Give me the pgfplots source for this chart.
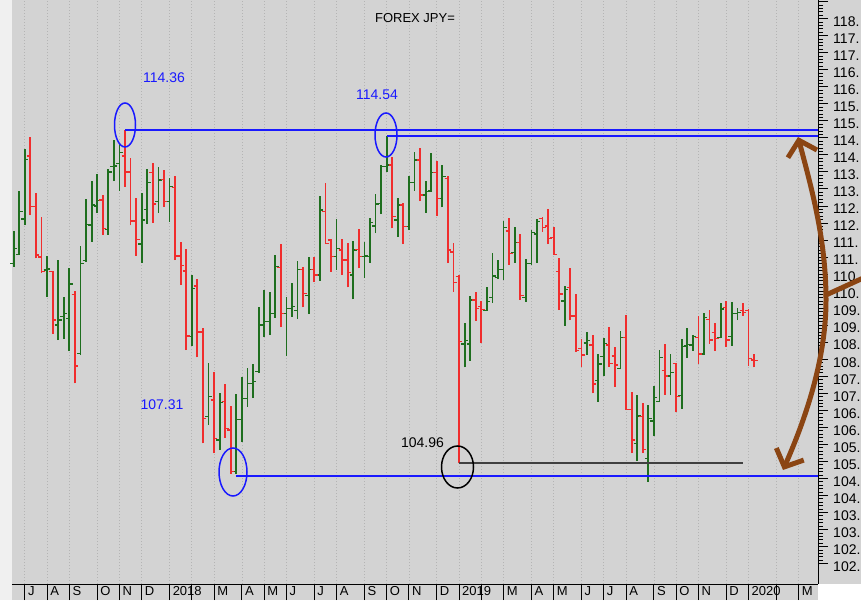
\documentclass[border=0pt]{standalone}
\usepackage{fontspec}
\setmainfont{Liberation Sans}
\usepackage{pgfplots}
\pgfplotsset{compat=1.18}
\usepackage{pgfplotstable}
\usetikzlibrary{arrows.meta}
\definecolor{bg}{RGB}{211,211,211}
\definecolor{leftbg}{RGB}{240,240,240}
\definecolor{grn}{RGB}{30,110,30}
\definecolor{rd}{RGB}{240,45,45}
\definecolor{annblue}{RGB}{25,25,255}
\definecolor{brn}{RGB}{139,69,19}
\definecolor{gridc}{RGB}{180,180,180}
\pgfdeclareplotmark{otick}{\pgfpathmoveto{\pgfqpoint{-3.4pt}{0pt}}\pgfpathlineto{\pgfqpoint{0pt}{0pt}}\pgfusepathqstroke}
\pgfdeclareplotmark{ctick}{\pgfpathmoveto{\pgfqpoint{0pt}{0pt}}\pgfpathlineto{\pgfqpoint{3.4pt}{0pt}}\pgfusepathqstroke}

\pgfplotstableread{
i O H L C
0 110.82 111.76 110.72 111.26
1 111.08 112.94 111.06 112.33
2 112.12 114.17 111.94 113.87
6 110.62 111.03 109.84 110.65
8 109.00 110.91 108.56 109.15
9 109.25 109.84 108.59 109.35
10 109.20 110.67 108.25 110.21
12 108.17 111.32 108.12 110.82
13 110.90 112.69 110.86 111.96
14 111.94 113.23 111.45 112.53
15 112.50 113.44 112.30 112.65
17 111.81 113.58 111.65 113.50
18 113.65 114.43 113.23 113.67
19 113.75 114.36 112.94 114.06
23 111.38 112.87 110.83 112.09
24 112.40 113.58 111.97 113.18
26 112.62 113.63 112.30 113.26
28 112.62 113.31 112.04 113.07
32 108.66 110.47 108.39 110.08
35 106.31 107.88 106.07 106.90
37 105.63 107.00 105.33 106.72
40 104.70 106.98 104.63 106.22
41 106.22 107.49 105.58 106.85
42 106.85 107.74 106.60 107.29
43 107.29 107.86 106.86 107.34
44 107.63 109.53 107.60 109.00
45 109.00 110.03 108.65 109.10
46 109.10 109.98 108.71 109.35
47 109.35 111.06 109.21 110.72
49 109.35 109.83 108.09 109.49
50 109.49 110.25 109.25 109.54
51 109.44 110.89 109.18 110.64
53 109.88 111.01 109.33 110.64
55 110.47 112.79 110.31 112.38
58 111.01 112.12 110.62 111.26
61 110.47 111.47 109.76 111.21
63 111.01 111.45 110.38 111.03
64 111.01 112.16 110.83 112.01
65 111.91 112.85 111.70 112.56
66 112.58 113.70 112.26 113.65
67 113.65 114.55 113.50 113.70
69 112.09 112.72 111.60 112.53
71 111.89 113.38 111.79 113.18
72 113.18 114.07 112.94 113.85
74 112.82 113.24 112.30 112.92
75 112.94 114.04 112.92 113.48
77 112.72 113.70 112.46 113.36
81 108.45 109.07 107.76 108.55
82 108.45 109.86 107.96 109.74
85 109.44 110.12 109.42 109.69
86 109.82 111.13 109.66 110.44
87 110.39 110.91 110.35 110.64
88 110.64 112.06 110.33 111.87
90 111.13 111.89 110.83 111.42
92 109.82 110.93 109.69 110.80
93 110.80 111.79 110.77 111.71
94 111.68 112.11 110.82 112.04
99 109.71 110.15 108.98 110.05
103 108.48 108.81 108.12 108.54
105 107.37 108.15 106.75 107.86
106 108.07 108.61 107.51 108.47
109 107.73 108.83 107.70 108.64
112 105.53 106.95 105.02 106.33
114 105.09 106.65 104.40 106.26
115 106.19 107.21 105.74 106.88
116 106.75 108.27 106.75 108.06
118 107.51 108.15 106.95 107.60
120 106.93 108.58 106.55 108.37
121 108.39 108.91 108.03 108.44
122 108.42 108.71 108.25 108.66
124 108.15 109.35 108.12 109.23
127 108.64 109.64 108.61 109.47
129 108.66 109.69 108.39 109.35
130 109.35 109.49 109.15 109.37
}\greenbars

\pgfplotstableread{
i O H L C
3 113.97 114.51 112.23 112.48
4 112.48 112.87 110.96 111.06
5 111.00 112.17 110.54 110.57
7 110.57 110.60 108.74 109.15
11 109.90 110.00 107.29 107.80
16 112.67 112.82 111.65 111.84
20 113.97 114.73 113.07 113.50
21 113.50 113.92 111.93 112.06
22 112.06 112.74 111.03 111.52
25 113.48 113.75 112.01 112.56
27 113.28 113.55 112.48 112.62
29 113.04 113.38 110.91 111.03
30 111.03 111.45 110.18 110.75
31 110.59 111.23 108.27 108.68
33 110.15 110.35 108.05 108.80
34 108.80 108.91 105.53 106.26
36 106.80 107.63 105.24 105.68
38 106.75 107.27 105.68 105.97
39 105.92 106.62 104.63 104.70
48 110.70 111.38 108.94 109.35
52 110.64 110.72 109.52 109.93
54 110.64 110.99 110.28 110.47
56 112.33 113.18 111.38 111.40
57 111.50 111.53 110.57 111.01
59 111.21 111.52 110.47 110.91
60 110.91 111.42 110.11 110.55
62 111.23 111.81 110.67 111.01
68 113.70 113.93 111.84 112.18
70 112.53 112.59 111.38 111.89
73 113.85 114.19 112.64 112.82
76 113.48 113.83 112.20 112.72
78 113.31 113.38 110.82 111.21
79 111.15 111.40 109.98 110.25
80 110.42 110.46 104.94 108.51
83 109.74 109.98 109.13 109.49
84 109.55 109.72 108.47 109.45
89 111.76 112.14 110.77 111.11
91 111.42 111.67 109.74 109.88
95 112.14 112.17 111.74 111.87
96 111.91 112.40 111.38 111.55
97 111.58 111.89 111.06 111.08
98 110.57 110.96 109.44 109.91
100 110.11 110.67 109.15 109.27
101 109.27 109.91 108.22 108.25
102 108.32 108.58 107.78 108.12
104 108.42 108.71 107.00 107.27
107 108.42 108.95 107.78 107.88
108 108.09 108.35 107.19 107.83
110 108.64 109.30 106.51 106.53
111 106.53 107.04 105.24 105.63
113 106.31 106.72 105.24 105.35
117 107.66 108.45 106.95 107.51
119 107.88 107.90 106.44 106.90
123 108.64 109.27 107.86 108.15
125 109.17 109.44 108.45 108.56
126 108.78 109.05 108.25 108.61
128 109.52 109.72 108.37 108.56
131 109.42 109.64 109.27 109.38
132 109.44 109.47 107.80 108.03
133 107.98 108.15 107.76 107.96
}\redbars

\begin{document}
\begin{tikzpicture}
\useasboundingbox (0pt,0pt) rectangle (861pt,600pt);
\clip (0pt,0pt) rectangle (861pt,600pt);
\begin{scope}[x=1pt,y=1pt]
\fill[bg] (0,0) rectangle (861,600);
\fill[leftbg] (0,0) rectangle (12,600);
\fill[white] (818,0) rectangle (861,16);
\end{scope}

\begin{axis}[
  at={(12pt,16pt)}, anchor=south west,
  scale only axis, width=806pt, height=584pt,
  xmin=-0.3, xmax=144.48, ymin=101.40, ymax=118.546,
  axis x line*=bottom, axis y line=none, ytick=\empty,
  x axis line style={black, line width=1pt},
  xtick={2,6,10,15,19,23,28,32,36,41,45,49,54,58,63,67,71,76,80,84,88,93,97,102,106,110,115,119,123,128,132,137,141},
  xticklabels={J,A,S,O,N,D,2018,,M,A,M,J,J,A,S,O,N,D,2019,,M,A,M,J,J,A,S,O,N,D,2020,,M},
  tick align=outside, major tick length=16pt,
  xtick style={black, line width=0.9pt},
  xmajorgrids,
  major grid style={gridc, line width=0.7pt, dash pattern=on 1pt off 2pt},
  xticklabel style={anchor=north west, inner sep=0pt, xshift=3pt, yshift=13.5pt, font=\fontsize{13}{13}\selectfont},
]
\addplot[grn, line width=1.8pt, quiver={u=0, v=\thisrow{H}-\thisrow{L}}] table[x=i, y=L] {\greenbars};
\addplot[grn, only marks, mark=otick, mark options={solid, line width=1.3pt}] table[x=i, y=O] {\greenbars};
\addplot[grn, only marks, mark=ctick, mark options={solid, line width=1.3pt}] table[x=i, y=C] {\greenbars};
\addplot[rd, line width=1.8pt, quiver={u=0, v=\thisrow{H}-\thisrow{L}}] table[x=i, y=L] {\redbars};
\addplot[rd, only marks, mark=otick, mark options={solid, line width=1.3pt}] table[x=i, y=O] {\redbars};
\addplot[rd, only marks, mark=ctick, mark options={solid, line width=1.3pt}] table[x=i, y=C] {\redbars};
% horizontal reference lines
\addplot[annblue, line width=1.6pt] coordinates {(20,114.73) (144.48,114.73)};
\addplot[annblue, line width=1.6pt] coordinates {(67,114.55) (144.48,114.55)};
\addplot[annblue, line width=1.6pt] coordinates {(40,104.57) (144.48,104.57)};
\addplot[black!75, line width=1.8pt] coordinates {(80,104.95) (131,104.95)};
\end{axis}

\begin{axis}[
  at={(12pt,16pt)}, anchor=south west,
  scale only axis, width=806pt, height=584pt,
  xmin=-0.3, xmax=144.48, ymin=101.40, ymax=118.546,
  axis x line=none, xtick=\empty,
  axis y line*=right,
  y axis line style={black, line width=1pt},
  ytick={102,102.5,...,118.5},
  yticklabels={102.,102.,103.,103.,104.,104.,105.,105.,106.,106.,107.,107.,108.,108.,109.,109.,110.,110.,111.,111.,112.,112.,113.,113.,114.,114.,115.,115.,116.,116.,117.,117.,118.,{}},
  minor y tick num=4,
  tick align=outside, major tick length=10pt, minor tick length=5pt,
  ytick style={black, line width=0.8pt},
  minor tick style={black, line width=0.7pt},
  yticklabel style={anchor=west, inner sep=0pt, xshift=5pt, yshift=-3pt, font=\fontsize{14}{14}\selectfont},
]
\end{axis}

\begin{scope}[x=1pt,y=1pt]
\node[font=\fontsize{13}{13}\selectfont] at (415,582) {FOREX JPY=};
\node[annblue, font=\fontsize{14}{14}\selectfont] at (164,522) {114.36};
\node[annblue, font=\fontsize{14}{14}\selectfont] at (377,505) {114.54};
\node[annblue, font=\fontsize{14}{14}\selectfont] at (162,195) {107.31};
\node[black, font=\fontsize{14}{14}\selectfont] at (422.5,157.5) {104.96};
\draw[annblue, line width=1.5pt] (125,475) ellipse [x radius=10.5, y radius=22];
\draw[annblue, line width=1.5pt] (386,465) ellipse [x radius=11, y radius=22];
\draw[annblue, line width=1.5pt] (233,128) ellipse [x radius=14, y radius=24];
\draw[black, line width=1.5pt] (457.5,133) ellipse [x radius=16, y radius=21];
\draw[brn, line width=5pt, line cap=round,
  {Straight Barb[length=14pt, width=30pt]}-{Straight Barb[length=14pt, width=30pt]}]
  (798,463) .. controls (812,410) and (826,360) .. (826,300)
  .. controls (826,240) and (805,180) .. (783,130);
\draw[brn, line width=5pt, line cap=round] (826,305) -- (872,326);
\end{scope}
\end{tikzpicture}
\end{document}
